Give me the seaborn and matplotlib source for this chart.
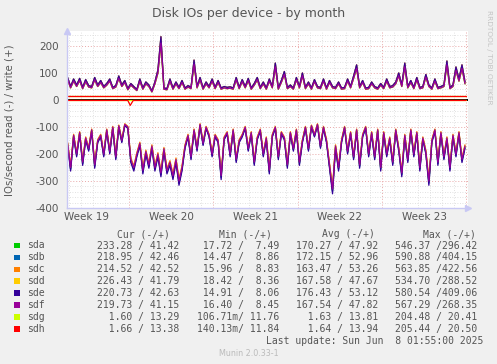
import numpy as np
import pandas as pd
import matplotlib
matplotlib.use("Agg")
import matplotlib.pyplot as plt
import seaborn as sns
from matplotlib.patches import Rectangle

# ---------------- data ----------------
disks = ['sda', 'sdb', 'sdc', 'sdd', 'sde', 'sdf', 'sdg', 'sdh']
colors = ['#00CC00', '#0066B3', '#FF8000', '#FFCC00', '#330099', '#990099', '#CCFF00', '#FF0000']

cur_read = [233.28, 218.95, 214.52, 226.43, 220.73, 219.73, 1.60, 1.66]
cur_write = [41.42, 42.46, 42.52, 41.79, 42.63, 41.15, 13.29, 13.38]
min_read = [17.72, 14.47, 15.96, 18.42, 14.91, 16.40, 0.10671, 0.14013]
min_write = [7.49, 8.86, 8.83, 8.36, 8.06, 8.45, 11.76, 11.84]
avg_read = [170.27, 172.15, 163.47, 167.58, 176.43, 167.54, 1.63, 1.64]
avg_write = [47.92, 52.96, 53.26, 47.67, 53.12, 47.82, 13.81, 13.94]
max_read = [546.37, 590.88, 563.85, 534.70, 580.54, 567.29, 204.48, 205.44]
max_write = [296.42, 404.15, 422.56, 288.52, 409.06, 268.35, 20.41, 20.50]

# time axis: days relative to start of ISO week 20 (Mon 12 May 2025), 6-hour samples
t_first = -5.1
t_step = 0.25

# sdf profile, write (+) IOs/s
write_profile = [
    75, 45, 70, 50,   72, 42, 68, 48,   45, 75, 50, 65,   45, 55, 70, 42,
    48, 80, 50, 65,   38, 55, 45, 35,   70, 40, 60, 50,   30, 60, 100, 211,
    40, 38, 70, 40,   60, 42, 65, 40,   48, 42, 133, 45,  75, 40, 60, 45,
    70, 42, 65, 40,   45, 42, 44, 40,   75, 42, 68, 45,   72, 40, 55, 75,
    42, 60, 40, 70,   45, 123, 40, 65,  95, 42, 50, 40,   75, 45, 90, 42,
    60, 40, 68, 45,   42, 70, 40, 65,   45, 42, 60, 40,   42, 70, 45, 80,
    117, 45, 65, 40,  42, 60, 45, 40,   55, 42, 70, 45,   48, 60, 90, 50,
    123, 45, 65, 42,  75, 42, 45, 85,   50, 40, 70, 42,   45, 50, 130, 42,
    50, 110, 70, 117, 60,
]
# sdf profile, read (-) IOs/s
read_profile = [
    -160, -250, -130, -200,  -120, -230, -140, -180,  -110, -240, -150, -130,
    -200, -110, -190, -100,  -210, -95, -150, -90,    -100, -220, -250, -200,
    -160, -260, -190, -240,  -170, -250, -200, -270,  -180, -260, -230, -280,
    -220, -300, -250, -170,  -130, -210, -110, -180,  -90, -160, -100, -130,
    -200, -130, -150, -280,  -140, -120, -200, -110,  -220, -150, -130, -100,
    -180, -120, -230, -140,  -110, -200, -140, -260,  -130, -100, -210, -120,
    -140, -240, -120, -180,  -110, -230, -150, -100,  -180, -95, -130, -90,
    -170, -100, -150, -240,  -330, -170, -250, -150,  -100, -190, -120, -210,
    -110, -240, -130, -100,  -200, -120, -210, -110,  -250, -120, -200, -140,
    -230, -110, -180, -270,  -130, -220, -110, -200,  -120, -250, -140, -190,
    -300, -150, -110, -230,  -120, -210, -140, -250,  -130, -200, -120, -220,
    -170,
]

# low-traffic disks (breakpoints)
low_t = [-5.1, -0.1, 0.1, 0.35, 28.0]
sdg_write = [13.3, 13.3, 13.3, 13.3, 13.3]
sdh_write = [13.4, 13.4, 13.4, 13.4, 13.4]
sdg_read = [-1.60, -1.60, -1.60, -1.60, -1.60]
sdh_read = [-1.66, -1.66, -20.0, -1.66, -1.66]

week_labels = ['Week 19', 'Week 20', 'Week 21', 'Week 22', 'Week 23']
week_centers = [-3.5, 3.5, 10.5, 17.5, 24.5]
y_ticks = [200, 100, 0, -100, -200, -300, -400]

# ---------------- build long table ----------------
t = t_first + t_step * np.arange(len(write_profile))
ref = disks.index('sdf')
rows = []
for i, d in enumerate(disks[:6]):
    ws = avg_write[i] / avg_write[ref]
    rs = avg_read[i] / avg_read[ref]
    for tt, w, r in zip(t, write_profile, read_profile):
        rows.append((tt, w * ws, d, 'write'))
        rows.append((tt, r * rs, d, 'read'))
for d, wv, rv in (('sdg', sdg_write, sdg_read), ('sdh', sdh_write, sdh_read)):
    for tt, w, r in zip(low_t, wv, rv):
        rows.append((tt, w, d, 'write'))
        rows.append((tt, r, d, 'read'))
df = pd.DataFrame(rows, columns=['t', 'v', 'disk', 'dir'])

# ---------------- figure ----------------
sns.set_theme(style='white')
plt.rcParams['font.family'] = ['DejaVu Sans']
W, H = 497, 364
fig = plt.figure(figsize=(W / 100, H / 100), dpi=100, facecolor='#F0F0F0')
L, R, T, B = 67, 468, 31, 208
ax = fig.add_axes([L / W, 1 - B / H, (R - L) / W, (B - T) / H])
ax.set_facecolor('white')

xmin, xmax = -5.15, 28.15
ymin = -400
ymax = (100 - T) / 0.27
ax.set_xlim(xmin, xmax)
ax.set_ylim(ymin, ymax)

grid_minor = dict(color='#D8D8D8', lw=0.6, ls=(0, (1, 2)), zorder=0)
grid_major = dict(color='#E8A8A8', lw=0.7, ls=(0, (1, 2)), zorder=0.5)
for d in range(int(np.ceil(xmin)), int(np.floor(xmax)) + 1):
    if d % 7 == 0:
        ax.axvline(d, **grid_major)
    else:
        ax.axvline(d, **grid_minor)
for yv in range(-400, int(ymax) + 1, 20):
    if yv % 100 == 0:
        ax.axhline(yv, **grid_major)
    else:
        ax.axhline(yv, **grid_minor)

ax.axhline(0, color='black', lw=1.4, zorder=1)

sns.lineplot(data=df, x='t', y='v', hue='disk', units='dir', estimator=None,
             hue_order=disks, palette=colors, legend=False, lw=0.9, ax=ax,
             sort=True, zorder=2)

ax.set_xlabel('')
ax.set_ylabel('')
ax.set_xticks(week_centers, week_labels)
ax.set_yticks(y_ticks, [str(v) for v in y_ticks])
ax.tick_params(axis='both', length=0, labelsize=7.5, labelcolor='#555555')
ax.tick_params(axis='y', pad=6)
ax.tick_params(axis='x', pad=3)
for s in ['top', 'right']:
    ax.spines[s].set_visible(False)
for s in ['left', 'bottom']:
    ax.spines[s].set_color('#C8C8F4')
    ax.spines[s].set_linewidth(1.0)
ax.plot([0], [1.0], marker='^', color='#C8C8F4', ms=5, transform=ax.transAxes, clip_on=False)
ax.plot([1.0], [0], marker='>', color='#C8C8F4', ms=5, transform=ax.transAxes, clip_on=False)

# title & labels
fig.text(0.5, 1 - 13 / H, 'Disk IOs per device - by month', ha='center', va='center',
         fontsize=9, color='#555555')
fig.text(10 / W, 1 - 120 / H, 'IOs/second read (-) / write (+)', rotation=90,
         ha='center', va='center', fontsize=7.3, color='#555555')
fig.text(489 / W, 1 - 57 / H, 'RRDTOOL / TOBI OETIKER', rotation=270,
         ha='center', va='center', fontsize=5.3, color='#C4C4C4')

# legend table
mono = 'DejaVu Sans Mono'
tc = '#555555'
fs = 7
def pair(a, b):
    left = f"{a * 1000:6.2f}m" if a < 1 else f"{a:6.2f} "
    return left + "/" + f"{b:6.2f}"

headers = ['Cur (-/+)', 'Min (-/+)', 'Avg (-/+)', 'Max (-/+)']
head_x = [117, 219, 322, 423]
col_right = [179, 279, 378, 477]
for h, hx in zip(headers, head_x):
    fig.text(hx / W, 1 - 234 / H, h, ha='left', va='center', family=mono, fontsize=fs, color=tc)
for i, d in enumerate(disks):
    y = 245.5 + i * 11.95
    fig.patches.append(Rectangle((14 / W, 1 - (y + 2.6) / H), 5.5 / W, 5.5 / H,
                                 transform=fig.transFigure, facecolor=colors[i],
                                 edgecolor='none'))
    fig.text(27 / W, 1 - y / H, d, ha='left', va='center', family=mono, fontsize=fs, color=tc)
    vals = [pair(cur_read[i], cur_write[i]), pair(min_read[i], min_write[i]),
            pair(avg_read[i], avg_write[i]), pair(max_read[i], max_write[i])]
    for s, xr in zip(vals, col_right):
        fig.text(xr / W, 1 - y / H, s, ha='right', va='center', family=mono, fontsize=fs, color=tc)

fig.text(483 / W, 1 - 341 / H, 'Last update: Sun Jun  8 01:55:00 2025', ha='right', va='center',
         family=mono, fontsize=fs, color=tc)
fig.text(249 / W, 1 - 353 / H, 'Munin 2.0.33-1', ha='center', va='center',
         fontsize=5.8, color='#BBBBBB')

fig.savefig('out.png', dpi=100, facecolor=fig.get_facecolor())
